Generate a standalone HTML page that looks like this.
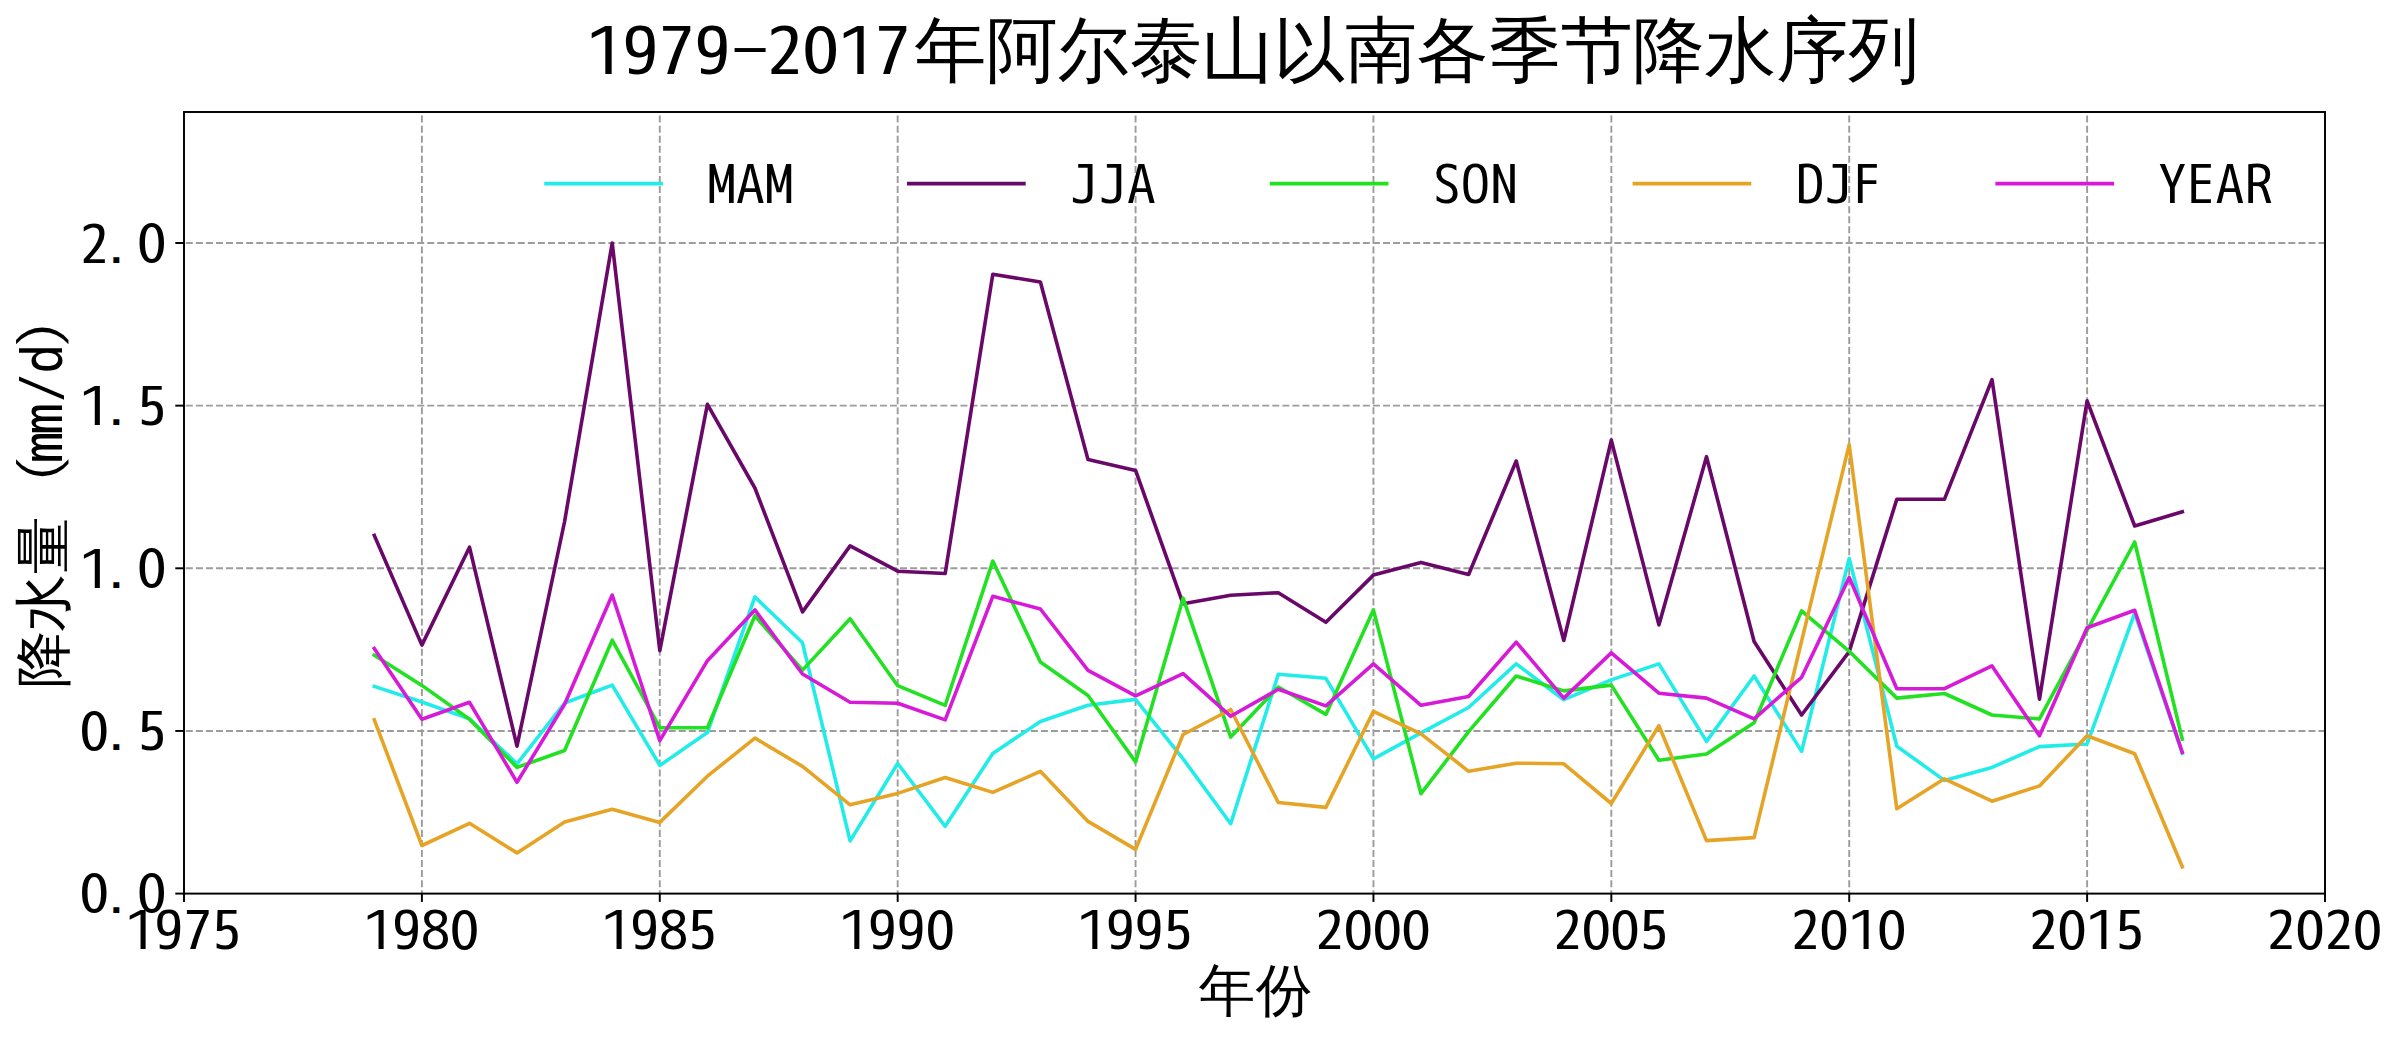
<!DOCTYPE html>
<html><head><meta charset="utf-8"><title>1979-2017年阿尔泰山以南各季节降水序列</title>
<style>html,body{margin:0;padding:0;background:#fff;overflow:hidden}svg{display:block}text{font-family:'WenQuanYi Zen Hei Mono','WenQuanYi Zen Hei','Noto Sans Mono CJK SC','Noto Sans CJK SC',sans-serif;fill:#000}</style></head><body>
<svg width="2400" height="1037" viewBox="0 0 2400 1037">
<rect x="0" y="0" width="2400" height="1037" fill="#fff"/>
<g stroke="#9c9c9c" stroke-width="1.9" stroke-dasharray="7.02 3.04" fill="none"><line x1="421.89" y1="893.60" x2="421.89" y2="112" stroke-dashoffset="3.64"/><line x1="659.78" y1="893.60" x2="659.78" y2="112" stroke-dashoffset="3.64"/><line x1="897.67" y1="893.60" x2="897.67" y2="112" stroke-dashoffset="3.64"/><line x1="1135.56" y1="893.60" x2="1135.56" y2="112" stroke-dashoffset="3.64"/><line x1="1373.44" y1="893.60" x2="1373.44" y2="112" stroke-dashoffset="3.64"/><line x1="1611.33" y1="893.60" x2="1611.33" y2="112" stroke-dashoffset="3.64"/><line x1="1849.22" y1="893.60" x2="1849.22" y2="112" stroke-dashoffset="3.64"/><line x1="2087.11" y1="893.60" x2="2087.11" y2="112" stroke-dashoffset="3.64"/><line x1="184.00" y1="730.95" x2="2325.00" y2="730.95" stroke-dashoffset="8.26"/><line x1="184.00" y1="568.30" x2="2325.00" y2="568.30" stroke-dashoffset="8.26"/><line x1="184.00" y1="405.65" x2="2325.00" y2="405.65" stroke-dashoffset="8.26"/><line x1="184.00" y1="243.00" x2="2325.00" y2="243.00" stroke-dashoffset="8.26"/></g>
<polyline points="374.3,686.4 421.9,702.0 469.5,718.9 517.0,763.8 564.6,703.0 612.2,685.1 659.8,765.4 707.4,732.6 754.9,596.9 802.5,642.8 850.1,840.9 897.7,763.5 945.2,826.3 992.8,753.4 1040.4,721.5 1088.0,705.3 1135.6,699.4 1183.1,758.9 1230.7,823.7 1278.3,674.3 1325.9,678.3 1373.4,758.9 1421.0,732.9 1468.6,707.5 1516.2,663.9 1563.8,699.7 1611.3,679.9 1658.9,663.9 1706.5,741.4 1754.1,676.0 1801.6,751.4 1849.2,558.5 1896.8,746.2 1944.4,780.4 1992.0,767.4 2039.5,746.6 2087.1,744.0 2134.7,613.2 2182.3,753.1" fill="none" stroke="#22ece8" stroke-width="3.60" stroke-linejoin="round" stroke-linecap="square"/>
<polyline points="374.3,535.4 421.9,645.1 469.5,547.2 517.0,746.2 564.6,521.5 612.2,243.0 659.8,650.6 707.4,404.3 754.9,488.0 802.5,611.9 850.1,545.9 897.7,571.2 945.2,573.5 992.8,274.2 1040.4,282.0 1088.0,459.6 1135.6,470.4 1183.1,603.8 1230.7,595.3 1278.3,592.7 1325.9,622.3 1373.4,575.1 1421.0,562.4 1468.6,574.5 1516.2,461.0 1563.8,640.5 1611.3,440.1 1658.9,624.9 1706.5,456.7 1754.1,641.5 1801.6,715.0 1849.2,651.6 1896.8,499.3 1944.4,499.3 1992.0,379.6 2039.5,699.1 2087.1,400.8 2134.7,526.0 2182.3,511.7" fill="none" stroke="#6a086a" stroke-width="3.60" stroke-linejoin="round" stroke-linecap="square"/>
<polyline points="374.3,655.2 421.9,685.4 469.5,719.2 517.0,767.4 564.6,750.5 612.2,640.2 659.8,727.7 707.4,727.7 754.9,615.8 802.5,670.1 850.1,618.7 897.7,685.7 945.2,705.3 992.8,561.1 1040.4,662.0 1088.0,695.5 1135.6,761.9 1183.1,598.2 1230.7,737.1 1278.3,687.0 1325.9,714.4 1373.4,609.9 1421.0,793.7 1468.6,731.6 1516.2,676.0 1563.8,690.9 1611.3,685.1 1658.9,760.2 1706.5,754.0 1754.1,722.8 1801.6,610.9 1849.2,651.3 1896.8,698.1 1944.4,693.5 1992.0,715.0 2039.5,718.9 2087.1,630.4 2134.7,542.0 2182.3,739.1" fill="none" stroke="#22e122" stroke-width="3.60" stroke-linejoin="round" stroke-linecap="square"/>
<polyline points="374.3,719.9 421.9,845.5 469.5,823.3 517.0,852.9 564.6,822.0 612.2,809.3 659.8,822.4 707.4,776.2 754.9,738.1 802.5,766.4 850.1,804.8 897.7,793.4 945.2,777.5 992.8,792.4 1040.4,771.3 1088.0,821.4 1135.6,849.4 1183.1,734.5 1230.7,709.5 1278.3,802.5 1325.9,807.4 1373.4,711.4 1421.0,733.9 1468.6,771.3 1516.2,763.2 1563.8,763.8 1611.3,803.5 1658.9,725.7 1706.5,840.6 1754.1,837.6 1801.6,641.2 1849.2,444.7 1896.8,808.7 1944.4,778.8 1992.0,801.2 2039.5,785.9 2087.1,735.8 2134.7,753.7 2182.3,866.9" fill="none" stroke="#e6a426" stroke-width="3.60" stroke-linejoin="round" stroke-linecap="square"/>
<polyline points="374.3,648.6 421.9,719.2 469.5,702.3 517.0,782.3 564.6,704.3 612.2,595.0 659.8,740.7 707.4,660.7 754.9,609.9 802.5,674.0 850.1,702.3 897.7,703.3 945.2,719.9 992.8,596.3 1040.4,609.0 1088.0,670.4 1135.6,695.8 1183.1,673.7 1230.7,716.3 1278.3,689.3 1325.9,705.9 1373.4,663.9 1421.0,705.3 1468.6,696.5 1516.2,642.1 1563.8,698.1 1611.3,652.9 1658.9,693.2 1706.5,698.1 1754.1,718.9 1801.6,677.3 1849.2,577.4 1896.8,688.7 1944.4,688.7 1992.0,665.9 2039.5,735.8 2087.1,627.8 2134.7,610.3 2182.3,752.4" fill="none" stroke="#d61ad8" stroke-width="3.60" stroke-linejoin="round" stroke-linecap="square"/>
<line x1="544.2" y1="183.6" x2="662.9" y2="183.6" stroke="#22ece8" stroke-width="3.60"/>
<text font-size="57.6" transform="matrix(0.9988 0 0 0.9000 707.30 203.60)" x="0.0 28.8 57.6">MAM</text>
<line x1="907.0" y1="183.6" x2="1025.7" y2="183.6" stroke="#6a086a" stroke-width="3.60"/>
<text font-size="57.6" transform="matrix(0.9988 0 0 0.9000 1069.40 203.60)" x="0.0 28.8 57.6">JJA</text>
<line x1="1269.8" y1="183.6" x2="1388.5" y2="183.6" stroke="#22e122" stroke-width="3.60"/>
<text font-size="57.6" transform="matrix(0.9988 0 0 0.9000 1432.20 203.60)" x="0.0 28.8 57.6">SON</text>
<line x1="1632.6" y1="183.6" x2="1751.3" y2="183.6" stroke="#e6a426" stroke-width="3.60"/>
<text font-size="57.6" transform="matrix(0.9988 0 0 0.9000 1795.20 203.60)" x="0.0 28.8 57.6">DJF</text>
<line x1="1995.4" y1="183.6" x2="2114.1" y2="183.6" stroke="#d61ad8" stroke-width="3.60"/>
<text font-size="57.6" transform="matrix(0.9988 0 0 0.9000 2157.92 203.60)" x="0.0 28.8 57.6 86.4">YEAR</text>
<rect x="184.0" y="112" width="2141.0" height="781.6" fill="none" stroke="#000" stroke-width="1.95"/>
<g stroke="#000" stroke-width="1.95"><line x1="184.00" y1="893.60" x2="184.00" y2="901.90"/><line x1="421.89" y1="893.60" x2="421.89" y2="901.90"/><line x1="659.78" y1="893.60" x2="659.78" y2="901.90"/><line x1="897.67" y1="893.60" x2="897.67" y2="901.90"/><line x1="1135.56" y1="893.60" x2="1135.56" y2="901.90"/><line x1="1373.44" y1="893.60" x2="1373.44" y2="901.90"/><line x1="1611.33" y1="893.60" x2="1611.33" y2="901.90"/><line x1="1849.22" y1="893.60" x2="1849.22" y2="901.90"/><line x1="2087.11" y1="893.60" x2="2087.11" y2="901.90"/><line x1="2325.00" y1="893.60" x2="2325.00" y2="901.90"/><line x1="184.00" y1="893.60" x2="175.30" y2="893.60"/><line x1="184.00" y1="730.95" x2="175.30" y2="730.95"/><line x1="184.00" y1="568.30" x2="175.30" y2="568.30"/><line x1="184.00" y1="405.65" x2="175.30" y2="405.65"/><line x1="184.00" y1="243.00" x2="175.30" y2="243.00"/></g>
<text font-size="57.6" transform="matrix(1.0800 0 0 0.9230 124.61 950.40)" x="0.00 26.67 53.33 80.00" y="0.00 0.00 0.00 0.00">1975</text>
<text font-size="57.6" transform="matrix(1.0800 0 0 0.9230 362.49 950.40)" x="0.00 26.67 53.33 80.00" y="0.00 0.00 0.00 -2.00">198<tspan font-family="'Noto Sans Mono CJK SC','WenQuanYi Zen Hei Mono',sans-serif">0</tspan></text>
<text font-size="57.6" transform="matrix(1.0800 0 0 0.9230 600.38 950.40)" x="0.00 26.67 53.33 80.00" y="0.00 0.00 0.00 0.00">1985</text>
<text font-size="57.6" transform="matrix(1.0800 0 0 0.9230 838.27 950.40)" x="0.00 26.67 53.33 80.00" y="0.00 0.00 0.00 -2.00">199<tspan font-family="'Noto Sans Mono CJK SC','WenQuanYi Zen Hei Mono',sans-serif">0</tspan></text>
<text font-size="57.6" transform="matrix(1.0800 0 0 0.9230 1076.16 950.40)" x="0.00 26.67 53.33 80.00" y="0.00 0.00 0.00 0.00">1995</text>
<text font-size="57.6" transform="matrix(1.0800 0 0 0.9230 1314.05 950.40)" x="0.00 26.67 53.33 80.00" y="0.00 -2.00 -2.00 -2.00">2<tspan font-family="'Noto Sans Mono CJK SC','WenQuanYi Zen Hei Mono',sans-serif">0</tspan><tspan font-family="'Noto Sans Mono CJK SC','WenQuanYi Zen Hei Mono',sans-serif">0</tspan><tspan font-family="'Noto Sans Mono CJK SC','WenQuanYi Zen Hei Mono',sans-serif">0</tspan></text>
<text font-size="57.6" transform="matrix(1.0800 0 0 0.9230 1551.94 950.40)" x="0.00 26.67 53.33 80.00" y="0.00 -2.00 -2.00 0.00">2<tspan font-family="'Noto Sans Mono CJK SC','WenQuanYi Zen Hei Mono',sans-serif">0</tspan><tspan font-family="'Noto Sans Mono CJK SC','WenQuanYi Zen Hei Mono',sans-serif">0</tspan>5</text>
<text font-size="57.6" transform="matrix(1.0800 0 0 0.9230 1789.83 950.40)" x="0.00 26.67 53.33 80.00" y="0.00 -2.00 0.00 -2.00">2<tspan font-family="'Noto Sans Mono CJK SC','WenQuanYi Zen Hei Mono',sans-serif">0</tspan>1<tspan font-family="'Noto Sans Mono CJK SC','WenQuanYi Zen Hei Mono',sans-serif">0</tspan></text>
<text font-size="57.6" transform="matrix(1.0800 0 0 0.9230 2027.72 950.40)" x="0.00 26.67 53.33 80.00" y="0.00 -2.00 0.00 0.00">2<tspan font-family="'Noto Sans Mono CJK SC','WenQuanYi Zen Hei Mono',sans-serif">0</tspan>15</text>
<text font-size="57.6" transform="matrix(1.0800 0 0 0.9230 2265.61 950.40)" x="0.00 26.67 53.33 80.00" y="0.00 -2.00 0.00 -2.00">2<tspan font-family="'Noto Sans Mono CJK SC','WenQuanYi Zen Hei Mono',sans-serif">0</tspan>2<tspan font-family="'Noto Sans Mono CJK SC','WenQuanYi Zen Hei Mono',sans-serif">0</tspan></text>
<text font-size="57.6" transform="matrix(1.0800 0 0 0.9200 78.76 914.10)" x="0.00 24.35 53.33" y="-2.00 0.00 -2.00"><tspan font-family="'Noto Sans Mono CJK SC','WenQuanYi Zen Hei Mono',sans-serif">0</tspan><tspan font-size="41.9">.</tspan><tspan font-family="'Noto Sans Mono CJK SC','WenQuanYi Zen Hei Mono',sans-serif">0</tspan></text>
<text font-size="57.6" transform="matrix(1.0800 0 0 0.9200 78.76 751.45)" x="0.00 24.35 53.33" y="-2.00 0.00 0.00"><tspan font-family="'Noto Sans Mono CJK SC','WenQuanYi Zen Hei Mono',sans-serif">0</tspan><tspan font-size="41.9">.</tspan>5</text>
<text font-size="57.6" transform="matrix(1.0800 0 0 0.9200 78.76 588.80)" x="0.00 24.35 53.33" y="0.00 0.00 -2.00">1<tspan font-size="41.9">.</tspan><tspan font-family="'Noto Sans Mono CJK SC','WenQuanYi Zen Hei Mono',sans-serif">0</tspan></text>
<text font-size="57.6" transform="matrix(1.0800 0 0 0.9200 78.76 426.15)" x="0.00 24.35 53.33" y="0.00 0.00 0.00">1<tspan font-size="41.9">.</tspan>5</text>
<text font-size="57.6" transform="matrix(1.0800 0 0 0.9200 78.76 263.50)" x="0.00 24.35 53.33" y="0.00 0.00 -2.00">2<tspan font-size="41.9">.</tspan><tspan font-family="'Noto Sans Mono CJK SC','WenQuanYi Zen Hei Mono',sans-serif">0</tspan></text>
<text font-size="57.6" transform="matrix(0.9850 0 0 0.9900 1198.70 1010.20)">年份</text>
<text font-size="57.6" transform="translate(62.6,688.25) rotate(-90)" x="0.00 56.85 114.25 178.10 226.55 255.00 285.85 315.10 337.20" y="0">降水量（mm/d）</text>
<text font-size="72.0" transform="matrix(1.0800 0 0 0.8980 585.20 75.20)" x="0.00 33.33 66.67 100.00" y="0.00 0.00 0.00 0.00">1979</text>
<text font-size="72.0" transform="matrix(1.4360 0 0 0.7600 724.15 67.66)">-</text>
<text font-size="72.0" transform="matrix(1.0800 0 0 0.8980 765.20 75.20)" x="0.00 33.33 66.67 100.00" y="0.00 -2.50 0.00 0.00">2<tspan font-family="'Noto Sans Mono CJK SC','WenQuanYi Zen Hei Mono',sans-serif">0</tspan>17</text>
<text font-size="72.0" transform="matrix(0.9980 0 0 1.0000 914.20 75.10)">年阿尔泰山以南各季节降水序列</text>
</svg></body></html>
